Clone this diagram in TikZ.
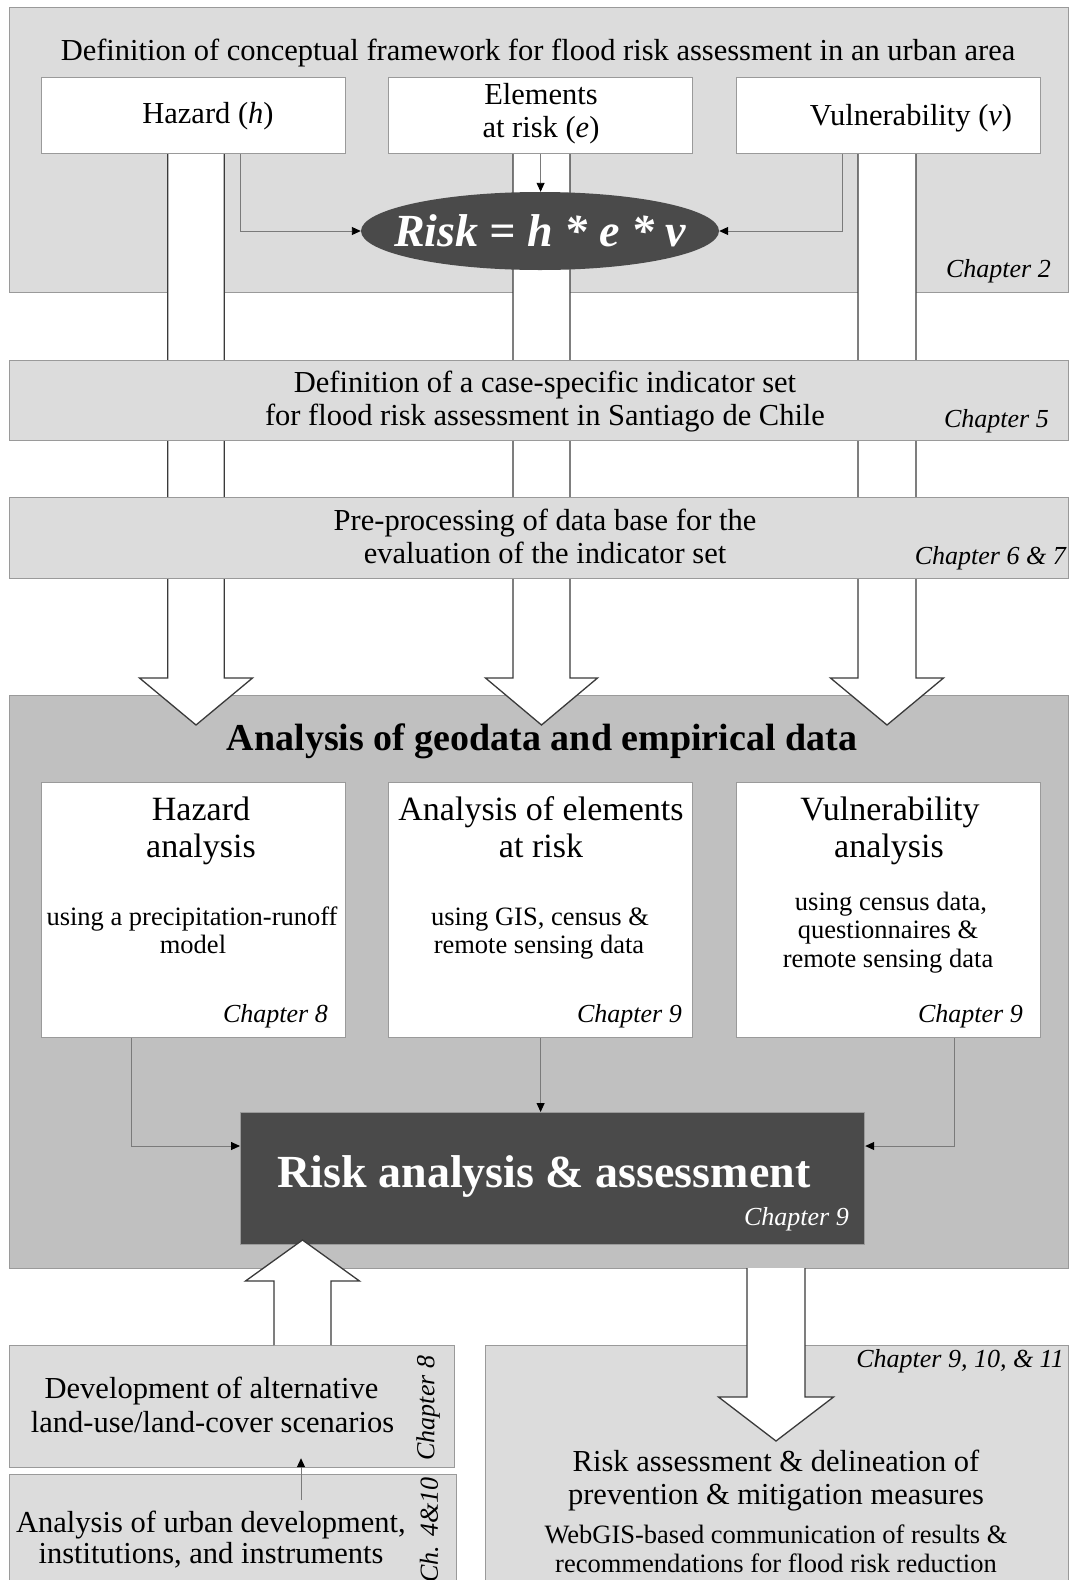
\documentclass[tikz,border=0pt]{standalone}
\usepackage{fontspec}
\setmainfont{Liberation Serif}
\usetikzlibrary{arrows.meta,calc,shapes.geometric}
\definecolor{lightpanel}{HTML}{DCDCDC}
\definecolor{midpanel}{HTML}{C0C0C0}
\definecolor{darkfill}{HTML}{4A4A4A}
\definecolor{edgegray}{HTML}{9A9A9A}
\definecolor{linkgray}{HTML}{7A7A7A}
\definecolor{arrowedge}{HTML}{3A3A3A}
\newcommand\fs[1]{\fontsize{#1}{#1}\selectfont}
\newcommand\fatarrowshape[6]{%
  \filldraw[fatarrow] (#1-#5,#2) -- (#1-#5,#3) -- (#1-#6,#3) -- (#1,#4) -- (#1+#6,#3) -- (#1+#5,#3) -- (#1+#5,#2);}
\begin{document}
\begin{tikzpicture}[x=1pt,y=-1pt,
  panelbox/.style={draw=edgegray, line width=1.2pt, fill=lightpanel, anchor=north west, inner sep=0pt},
  whitebox/.style={draw=edgegray, line width=1.2pt, fill=white, anchor=north west, inner sep=0pt},
  fatarrow/.style={fill=white, draw=arrowedge, line width=1.3pt, line join=miter},
  link/.style={draw=linkgray, line width=0.9pt, -{Triangle[length=9pt,width=8pt,color=black]}},
  txt/.style={anchor=base, inner sep=0pt, font=\fs{30.5}},
  sub/.style={anchor=base, inner sep=0pt, font=\fs{26.5}},
  boxtitle/.style={anchor=base, inner sep=0pt, font=\fs{34}},
  chap/.style={anchor=base east, inner sep=0pt, font=\fs{26}\itshape},
]
\useasboundingbox (0,0) rectangle (1071,1580);

% panels
\node[panelbox, minimum width=1059pt, minimum height=285pt] (p1) at (9,7) {};
\node[panelbox, fill=midpanel, minimum width=1059pt, minimum height=573pt] (p4) at (9,695) {};

% wide arrows from the three components
\fatarrowshape{196}{153}{678}{725}{28.25}{56.5}
\fatarrowshape{541.5}{153}{678}{725}{28.5}{56}
\fatarrowshape{887}{153}{678}{725}{29}{56.5}

\node[panelbox, minimum width=1059pt, minimum height=80pt] (p2) at (9,360) {};
\node[panelbox, minimum width=1059pt, minimum height=81pt] (p3) at (9,497) {};

% top boxes
\node[whitebox, minimum width=304pt, minimum height=76pt] (hz) at (41,77) {};
\node[whitebox, minimum width=304pt, minimum height=76pt] (el) at (388,77) {};
\node[whitebox, minimum width=304pt, minimum height=76pt] (vu) at (736,77) {};

\node[ellipse, fill=darkfill, minimum width=358pt, minimum height=78pt, inner sep=0pt] (eq) at (540,231) {};
\node[inner sep=0pt, font=\bfseries\itshape\fs{46}, text=white] (eqt) at (eq.center) {Risk = h * e * v};

\draw[link] ([xshift=199pt]hz.south west) |- (eq.west);
\draw[link] ([xshift=-199pt]vu.south east) |- (eq.east);
\draw[link] (el.south) -- (el.south |- eq.north);

\node[txt] (t1) at (538,60) {Definition of conceptual framework for flood risk assessment in an urban area};
\node[txt] (hzt) at (208,123) {Hazard (\textit{h})};
\node[txt] (elt1) at (541,104) {Elements};
\node[txt] (elt2) at (541,137) {at risk (\textit{e})};
\node[txt] (vut) at (911,125) {Vulnerability (\textit{v})};
\node[chap] (c2) at (1051,277) {Chapter 2};

\node[txt] (t2a) at (545,392) {Definition of a case-specific indicator set};
\node[txt] (t2b) at (545,425) {for flood risk assessment in Santiago de Chile};
\node[chap] (c5) at (1049,427) {Chapter 5};

\node[txt] (t3a) at (545,530) {Pre-processing of data base for the};
\node[txt] (t3b) at (545,563) {evaluation of the indicator set};
\node[chap] (c67) at (1066,564) {Chapter 6 \& 7};

% analysis panel
\node[anchor=base, inner sep=0pt, font=\bfseries\fs{38}] (t4) at (542,750) {Analysis of geodata and empirical data};

\node[whitebox, minimum width=304pt, minimum height=255pt] (ha) at (41,782) {};
\node[whitebox, minimum width=304pt, minimum height=255pt] (ea) at (388,782) {};
\node[whitebox, minimum width=304pt, minimum height=255pt] (va) at (736,782) {};

\node[boxtitle] (hat1) at (201,820) {Hazard};
\node[boxtitle] (hat2) at (201,857) {analysis};
\node[sub] (has1) at (192,925) {using a precipitation-runoff};
\node[sub] (has2) at (193,953) {model};
\node[chap] (c8) at (328,1022) {Chapter 8};

\node[boxtitle] (eat1) at (541,820) {Analysis of elements};
\node[boxtitle] (eat2) at (541,857) {at risk};
\node[sub] (eas1) at (540,925) {using GIS, census \&};
\node[sub] (eas2) at (539,953) {remote sensing data};
\node[chap] (c9a) at (682,1022) {Chapter 9};

\node[boxtitle] (vat1) at (890,820) {Vulnerability};
\node[boxtitle] (vat2) at (889,857) {analysis};
\node[sub] (vas1) at (891,910) {using census data,};
\node[sub] (vas2) at (888,938) {questionnaires \&};
\node[sub] (vas3) at (888,967) {remote sensing data};
\node[chap] (c9b) at (1023,1022) {Chapter 9};

\node[whitebox, fill=darkfill, minimum width=624pt, minimum height=132pt] (ra) at (240,1112) {};
\node[anchor=base, inner sep=0pt, font=\bfseries\fs{46}, text=white] (rat) at (544,1187) {Risk analysis \& assessment};
\node[chap, text=white] (c9c) at (849,1225) {Chapter 9};

\draw[link] ([xshift=90pt]ha.south west) |- ([yshift=-34pt]ra.north west);
\draw[link] ([xshift=-87pt]va.south east) |- ([yshift=-34pt]ra.north east);
\draw[link] (ea.south) -- (ea.south |- ra.north);

% lower boxes
\node[panelbox, minimum width=445pt, minimum height=122pt] (b1) at (9,1345) {};
\node[panelbox, minimum width=447pt, minimum height=130pt] (b2) at (9,1474) {};
\node[panelbox, minimum width=583pt, minimum height=260pt] (rb) at (485,1345) {};

\fatarrowshape{302.5}{1345}{1281}{1240}{28.5}{57}
\fatarrowshape{776}{1268}{1397}{1441}{29}{57.5}

\draw[link] ([xshift=292pt,yshift=-26pt]b2.north west) -- ([xshift=292pt,yshift=10pt]b1.south west);

\node[txt] (b1a) at (211.5,1398) {Development of alternative};
\node[txt] (b1b) at (212.5,1432) {land-use/land-cover scenarios};
\node[inner sep=0pt, font=\fs{26}\itshape, rotate=90] (c8v) at (428,1408) {Chapter 8};

\node[txt] (b2a) at (211,1532) {Analysis of urban development,};
\node[txt] (b2b) at (211,1563) {institutions, and instruments};
\node[inner sep=0pt, font=\fs{26}\itshape, rotate=90] (c410) at (429,1530) {Ch.\hspace{0.35em}4\&10};

\node[chap] (c911) at (1064,1367) {Chapter 9, 10, \& 11};
\node[txt] (rba) at (776,1471) {Risk assessment \& delineation of};
\node[txt] (rbb) at (776,1504) {prevention \& mitigation measures};
\node[sub] (rbc) at (776,1543) {WebGIS-based communication of results \&};
\node[sub] (rbd) at (776,1572) {recommendations for flood risk reduction};
\end{tikzpicture}
\end{document}
